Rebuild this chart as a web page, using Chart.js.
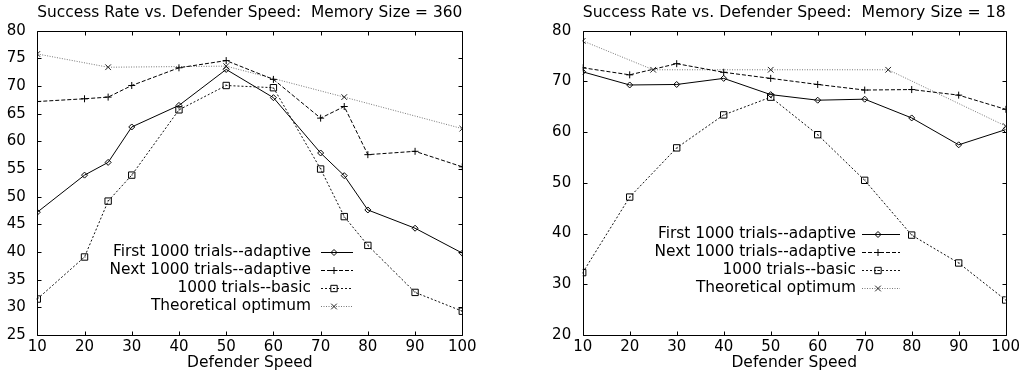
<!DOCTYPE html>
<html><head><meta charset="utf-8">
<script src="https://cdn.jsdelivr.net/npm/chart.js@4"></script>
<style>
html,body{margin:0;padding:0;background:#fff;}
#wrap{position:relative;width:1023px;height:382px;overflow:hidden;background:#fff;}
canvas{position:absolute;top:0;}
#c1{left:0;} #c2{left:511px;}
</style></head><body>
<div id="wrap"><canvas id="c1" width="511" height="382"></canvas><canvas id="c2" width="512" height="382"></canvas></div>
<script>
// ---- data: Memory Size = 360 ----
const speeds360 = [10, 20, 25, 30, 40, 50, 60, 70, 75, 80, 90, 100];
const first360  = [47.2, 53.9, 56.2, 62.6, 66.5, 73.0, 67.9, 57.9, 53.8, 47.6, 44.3, 39.8];
const next360   = [67.2, 67.7, 68.0, 70.1, 73.3, 74.6, 71.2, 64.2, 66.3, 57.6, 58.2, 55.4];
const basic360  = [31.5, 39.1, 49.2, 53.9, 65.7, 70.1, 69.7, 55.0, 46.4, 41.2, 32.7, 29.3];
const optSpeeds360 = [10, 25, 50, 75, 100];
const opt360    = [75.8, 73.4, 73.6, 68.0, 62.3];
const yTicks360 = [25, 80, 5];

// ---- data: Memory Size = 18 ----
const speeds18 = [10, 20, 30, 40, 50, 60, 70, 80, 90, 100];
const first18  = [71.9, 69.3, 69.4, 70.6, 67.4, 66.3, 66.5, 62.8, 57.5, 60.5];
const next18   = [72.7, 71.3, 73.5, 71.8, 70.6, 69.4, 68.3, 68.4, 67.3, 64.5];
const basic18  = [32.3, 47.2, 56.9, 63.4, 66.9, 59.5, 50.5, 39.7, 34.2, 26.9];
const optSpeeds18 = [10, 25, 50, 75, 100];
const opt18    = [78.0, 72.3, 72.3, 72.3, 61.2];
const yTicks18 = [20, 80, 10];

const xTicks = [10, 100, 10];
const seriesLabels = ['First 1000 trials--adaptive', 'Next 1000 trials--adaptive', '1000 trials--basic', 'Theoretical optimum'];
const xTitle = 'Defender Speed';
const titles = ['Success Rate vs. Defender Speed:  Memory Size = 360', 'Success Rate vs. Defender Speed:  Memory Size = 18'];

const FONT = "'DejaVu Sans', sans-serif";
const pts = (xs, ys) => xs.map((x, i) => ({x: x, y: ys[i]}));

function datasets(sp, f, n, b, osp, o) {
  const common = {borderWidth: 1, fill: false, tension: 0, pointBorderWidth: 1,
    pointBackgroundColor: 'rgba(0,0,0,0)', pointHoverRadius: 0};
  return [
    Object.assign({}, common, {label: seriesLabels[0], data: pts(sp, f), borderColor: '#000', pointBorderColor: '#000', pointStyle: 'rectRot', pointRadius: 3}),
    Object.assign({}, common, {label: seriesLabels[1], data: pts(sp, n), borderColor: '#000', borderDash: [4, 2], pointBorderColor: '#000', pointStyle: 'cross', pointRadius: 3.5}),
    Object.assign({}, common, {label: seriesLabels[2], data: pts(sp, b), borderColor: '#111', borderDash: [2, 2], pointBorderColor: '#000', pointStyle: 'rect', pointRadius: 4.5, dotCenter: true}),
    Object.assign({}, common, {label: seriesLabels[3], data: pts(osp, o), borderColor: '#777', borderDash: [1, 1.5], pointBorderColor: '#222', pointStyle: 'crossRot', pointRadius: 4})
  ];
}

const framePlugin = {
  id: 'gpFrame',
  afterDatasetsDraw(chart) {
    const ctx = chart.ctx, a = chart.chartArea;
    const xs = chart.scales.x, ys = chart.scales.y;
    ctx.save();
    ctx.strokeStyle = '#000'; ctx.lineWidth = 1; ctx.setLineDash([]);
    chart.data.datasets.forEach((ds, i) => {
      if (!ds.dotCenter) return;
      chart.getDatasetMeta(i).data.forEach(p => { ctx.fillStyle = '#000'; ctx.fillRect(Math.round(p.x) - 0.5, Math.round(p.y) - 0.5, 1, 1); });
    });
    const L = Math.round(a.left) + 0.5, R = Math.round(a.right) + 0.5, T = Math.round(a.top) + 0.5, B = Math.round(a.bottom) + 0.5;
    ctx.beginPath(); ctx.rect(L, T, R - L, B - T); ctx.stroke();
    const tl = 4;
    ctx.beginPath();
    xs.ticks.forEach(t => {
      const px = Math.round(xs.getPixelForValue(t.value)) + 0.5;
      ctx.moveTo(px, B); ctx.lineTo(px, B - tl);
      ctx.moveTo(px, T); ctx.lineTo(px, T + tl);
    });
    ys.ticks.forEach(t => {
      const py = Math.round(ys.getPixelForValue(t.value)) + 0.5;
      ctx.moveTo(L, py); ctx.lineTo(L + tl, py);
      ctx.moveTo(R, py); ctx.lineTo(R - tl, py);
    });
    ctx.stroke();
    ctx.restore();
  }
};

const legendPlugin = {
  id: 'gpLegend',
  afterDatasetsDraw(chart, args, o) {
    const ctx = chart.ctx;
    ctx.save();
    ctx.font = o.fontSize + 'px ' + FONT;
    ctx.textAlign = 'right'; ctx.textBaseline = 'middle';
    chart.data.datasets.forEach((ds, i) => {
      const y = o.y0 + i * o.dy;
      ctx.fillStyle = '#000';
      ctx.fillText(ds.label, o.textRight, y);
      ctx.beginPath();
      ctx.setLineDash(ds.borderDash || []);
      ctx.strokeStyle = ds.borderColor; ctx.lineWidth = ds.borderWidth;
      const yy = Math.round(y) + 0.5;
      ctx.moveTo(o.s1, yy); ctx.lineTo(o.s2, yy); ctx.stroke();
      ctx.setLineDash([]);
      ctx.strokeStyle = ds.pointBorderColor; ctx.fillStyle = 'rgba(0,0,0,0)'; ctx.lineWidth = 1;
      if (Chart.helpers && Chart.helpers.drawPoint) {
        Chart.helpers.drawPoint(ctx, {pointStyle: ds.pointStyle, radius: ds.pointRadius, borderWidth: 1, rotation: 0}, o.mx, yy);
      }
      if (ds.dotCenter) { ctx.fillStyle = '#000'; ctx.fillRect(Math.round(o.mx) - 0.5, yy - 0.5, 1, 1); }
    });
    ctx.restore();
  }
};

function makeChart(id, title, ds, yt, pad, leg) {
  return new Chart(document.getElementById(id), {
    type: 'line',
    data: {datasets: ds},
    plugins: [framePlugin, legendPlugin],
    options: {
      responsive: false, animation: false, devicePixelRatio: 1,
      layout: {padding: pad},
      events: [],
      plugins: {
        legend: {display: false},
        tooltip: {enabled: false},
        title: {display: true, text: title, fullSize: false, color: '#000',
          font: {family: FONT, size: 16.6, weight: 'normal', lineHeight: 1.2}, padding: {top: 3, bottom: 7.8}},
        gpLegend: leg
      },
      scales: {
        x: {type: 'linear', min: xTicks[0], max: xTicks[1],
          ticks: {stepSize: xTicks[2], autoSkip: false, maxRotation: 0, padding: 3, color: '#000', font: {family: FONT, size: 15}},
          grid: {display: false, drawTicks: false}, border: {display: false},
          title: {display: true, text: xTitle, color: '#000', font: {family: FONT, size: 15.5, lineHeight: 1.2}, padding: {top: 0, bottom: 10}},
          afterFit(s) { s.height = 47; }
        },
        y: {type: 'linear', min: yt[0], max: yt[1],
          ticks: {stepSize: yt[2], autoSkip: false, padding: 11.5, color: '#000', font: {family: FONT, size: 15}},
          grid: {display: false, drawTicks: false}, border: {display: false},
          afterFit(s) { s.width = 37.3; }
        }
      }
    }
  });
}

makeChart('c1', titles[0], datasets(speeds360, first360, next360, basic360, optSpeeds360, opt360), yTicks360,
  {left: 0, right: 48.7, top: 0, bottom: 0},
  {fontSize: 15.4, y0: 252, dy: 18, textRight: 311, s1: 321, s2: 353, mx: 334});
makeChart('c2', titles[1], datasets(speeds18, first18, next18, basic18, optSpeeds18, opt18), yTicks18,
  {left: 34.4, right: 15.7, top: 0, bottom: 0},
  {fontSize: 15.4, y0: 234, dy: 18, textRight: 856 - 511, s1: 862 - 511, s2: 900 - 511, mx: 878 - 511});
</script>
</body></html>
